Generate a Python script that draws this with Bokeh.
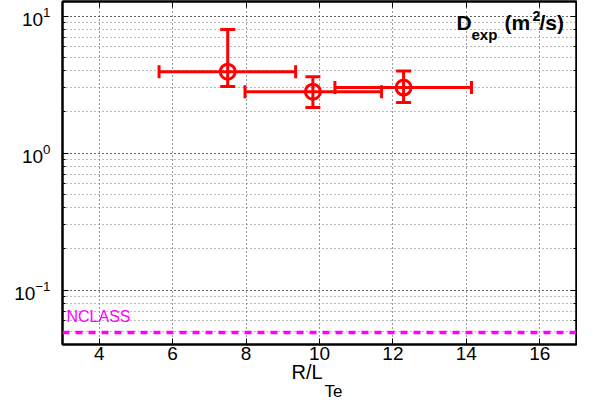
from bokeh.plotting import figure
from bokeh.models import (Range1d, FixedTicker, LinearAxis, LogAxis, LogTicker, Whisker,
                          TeeHead, ColumnDataSource, Span, Label, Title)
from bokeh.embed import file_html
from bokeh.resources import INLINE

# ---- data ----
rlte = [7.5, 9.82, 12.29]
rlte_lo = [5.63, 7.97, 10.42]
rlte_hi = [9.35, 11.69, 14.14]
dexp = [3.93, 2.81, 3.01]
dexp_lo = [3.06, 2.15, 2.34]
dexp_hi = [8.0, 3.61, 3.97]
nclass_level = 0.049
x_ticks = [4, 6, 8, 10, 12, 14, 16]
x_lim = (3, 17)
y_lim = (0.04, 12.8)

FONT = "Liberation Sans"
RED = "#ff0000"
MAG = "#ff00ff"

p = figure(width=577, height=401, output_backend="svg", toolbar_location=None,
           x_range=Range1d(*x_lim), y_range=Range1d(*y_lim), y_axis_type="log",
           min_border_left=62, min_border_right=1, min_border_top=1, min_border_bottom=10)
p.background_fill_color = "white"
p.border_fill_color = "white"
p.outline_line_color = "black"
p.outline_line_width = 2

# grids
p.xgrid.ticker = FixedTicker(ticks=x_ticks)
for g in (p.xgrid, p.ygrid):
    g.grid_line_color = "#333333"
    g.grid_line_dash = "1 3"
    g.grid_line_width = 1
p.ygrid.minor_grid_line_color = "#777777"
p.ygrid.minor_grid_line_dash = "1 3"

def style_axis(ax, labels=True):
    ax.major_tick_in = 6
    ax.major_tick_out = 0
    ax.minor_tick_in = 3
    ax.minor_tick_out = 0
    ax.major_tick_line_color = "black"
    ax.minor_tick_line_color = "black"
    ax.axis_line_color = "black"
    ax.axis_line_width = 2
    if labels:
        ax.major_label_text_font = FONT
        ax.major_label_text_font_size = "19px"
        ax.major_label_text_color = "black"
    else:
        ax.major_label_text_font_size = "1px"
        ax.major_label_text_color = None
        ax.major_label_standoff = 0

xa = p.xaxis[0]
xa.ticker = FixedTicker(ticks=x_ticks)
style_axis(xa)
xa.minor_tick_line_color = None
xa.major_label_standoff = 2

ya = p.yaxis[0]
style_axis(ya)
ya.major_label_standoff = 12

top = LinearAxis(ticker=FixedTicker(ticks=x_ticks))
style_axis(top, labels=False)
top.minor_tick_line_color = None
p.add_layout(top, "above")

right = LogAxis(ticker=LogTicker())
style_axis(right, labels=False)
p.add_layout(right, "right")

# x axis label R/L_Te as two stacked titles below the axis
p.add_layout(Title(text="R/L", align="left", offset=229, text_font=FONT, text_color="black",
                   text_font_size="20px", text_font_style="normal", standoff=-7), "below")
p.add_layout(Title(text="Te", align="left", offset=262, text_font=FONT, text_color="black",
                   text_font_size="17px", text_font_style="normal", standoff=1), "below")

# NCLASS level
p.add_layout(Span(location=nclass_level, dimension="width", line_color=MAG,
                  line_width=3.5, line_dash="7 6"))
p.add_layout(Label(x=4, y=20, x_units="screen", y_units="screen", text="NCLASS",
                   text_font=FONT, text_font_size="16px", text_color=MAG))

# error bars
src = ColumnDataSource(dict(x=rlte, xlo=rlte_lo, xhi=rlte_hi, y=dexp, ylo=dexp_lo, yhi=dexp_hi))
p.add_layout(Whisker(source=src, dimension="width", base="y", lower="xlo", upper="xhi",
                     line_color=RED, line_width=3,
                     lower_head=TeeHead(size=13, line_color=RED, line_width=3),
                     upper_head=TeeHead(size=13, line_color=RED, line_width=3)))
p.add_layout(Whisker(source=src, dimension="height", base="x", lower="ylo", upper="yhi",
                     line_color=RED, line_width=3,
                     lower_head=TeeHead(size=15, line_color=RED, line_width=3),
                     upper_head=TeeHead(size=15, line_color=RED, line_width=3)))
p.scatter("x", "y", source=src, marker="circle", size=15, fill_color=None,
          line_color=RED, line_width=3)

# in-plot label D_exp (m^2/s)
def lab(x, y, text, size, bold=True):
    p.add_layout(Label(x=x, y=y, x_units="screen", y_units="screen", text=text,
                       text_font=FONT, text_font_size=size,
                       text_font_style="bold" if bold else "normal", text_color="black"))

lab(394, 311, "D", "21px")
lab(409, 302, "exp", "15px")
lab(442, 311, "(m", "21px")
lab(470, 324, "2", "14px")
lab(477, 311, "/s)", "21px")

open("out.html", "w").write(file_html(p, INLINE))
